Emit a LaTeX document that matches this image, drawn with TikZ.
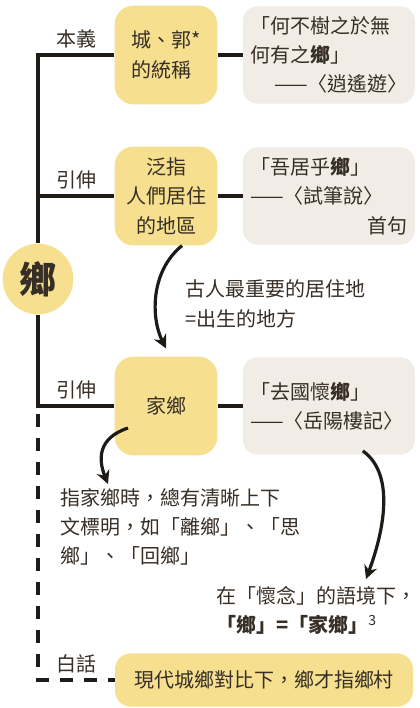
\documentclass[tikz,border=0pt]{standalone}
\usepackage{fontspec}
\setmainfont{Noto Sans CJK TC}
\usetikzlibrary{arrows.meta,positioning}
\definecolor{ink}{RGB}{55,46,38}
\definecolor{stroke}{RGB}{30,26,22}
\definecolor{sense}{RGB}{246,224,144}
\definecolor{paper}{RGB}{241,237,230}
\tikzset{
  every picture/.style={color=ink, font=\fontsize{15pt}{22pt}\selectfont},
  box/.style={draw=none, rounded corners=14pt, inner sep=4pt, align=center, text=ink},
  meaning/.style={box, fill=sense, minimum width=77pt, minimum height=74pt},
  quote/.style={box, fill=paper, rounded corners=11pt, text width=118pt, inner xsep=5.5pt, minimum height=73pt, align=left},
  root/.style={circle, fill=sense, minimum size=53pt, inner sep=0pt, font=\fontsize{28pt}{28pt}\selectfont\bfseries},
  stem/.style={draw=stroke, line width=2.6pt},
  faint/.style={stem, dash pattern=on 10pt off 8pt, dash phase=12pt},
  flow/.style={draw=stroke, line width=2.4pt, -{Stealth[length=10pt,width=10pt]}},
  lbl/.style={text=ink, inner sep=1pt},
  note/.style={text=ink, align=left, inner sep=0pt},
}
\begin{document}
\begin{tikzpicture}[x=0.75pt, y=-0.75pt]
  \useasboundingbox (0,0) rectangle (419,708);
  % the word and its senses
  \node[root] (xiang) at (38,279) {鄉};
  \node[meaning, align=left] (orig) at (166,55) {城、郭*\\的統稱};
  \node[quote, right=18.75pt of orig] (xiaoyao) {「何不樹之於無\\何有之\textbf{鄉}」\\\makebox[118pt][r]{——〈逍遙遊〉}};
  \node[meaning] (place) at (166,196) {泛指\\人們居住\\的地區};
  \node[quote, right=18.75pt of place] (bishuo) {「吾居乎\textbf{鄉}」\\——〈試筆說〉\\\makebox[118pt][r]{首句}};
  \node[meaning] (home) at (166,406) {家鄉};
  \node[quote, right=18.75pt of home] (yueyang) {「去國懷\textbf{鄉}」\\——〈岳陽樓記〉};
  \node[meaning, minimum width=223.5pt, minimum height=40pt, rounded corners=12pt] (modern) at (264,680) {現代城鄉對比下，鄉才指鄉村};
  % trunk and branches
  \draw[stem] (orig.west) -| node[lbl, pos=0.25, above=3pt] {本義} (xiang.north);
  \draw[stem] (place.west -| xiang) -- node[lbl, above=3pt] {引伸} (place.west);
  \draw[stem] (xiang.south) |- node[lbl, pos=0.75, above=3pt] {引伸} (home.west);
  \draw[faint] (home.west -| xiang) |- node[lbl, pos=0.75, above=3pt] {白話} (modern.west);
  \draw[stem] (orig) -- (xiaoyao);
  \draw[stem] (place) -- (bishuo);
  \draw[stem] (home) -- (yueyang);
  % side notes with their arrows
  \node[note, anchor=west] (why) at (185,304) {古人最重要的居住地\\=出生的地方};
  \draw[flow] ([xshift=12pt]place.south) .. controls +(-32,26) and +(-15,-30) .. ([yshift=6pt]home.north);
  \coordinate (tip2) at (108,484);
  \draw[flow] ([shift={(-38,22)}]home.center) .. controls +(-30,10) and +(-10,-25) .. (tip2);
  \node[note, anchor=north west] (rule) at (60,488) {指家鄉時，總有清晰上下\\文標明，如「離鄉」、「思\\鄉」、「回鄉」};
  \coordinate (tip3) at (366,579);
  \draw[flow] ([shift={(34,-4)}]yueyang.south) .. controls +(35,25) and +(15,-40) .. (tip3);
  \node[note, anchor=north west] (mood) at (216,586) {在「懷念」的語境下，\\\textbf{「鄉」=「家鄉」}\textsuperscript{3}};
\end{tikzpicture}
\end{document}
